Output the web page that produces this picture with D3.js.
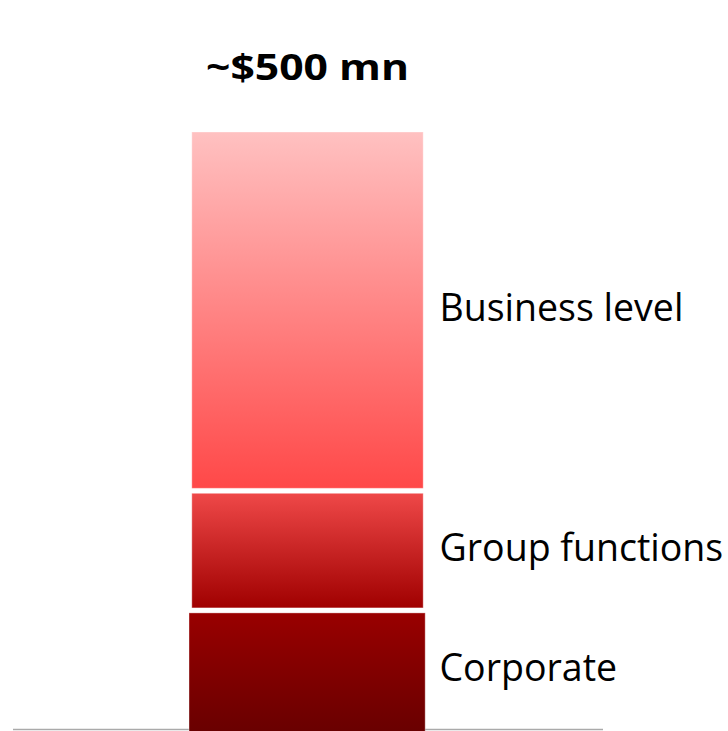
<!DOCTYPE html>
<html>
<head>
<meta charset="utf-8">
<script src="https://cdn.jsdelivr.net/npm/d3@7"></script>
<style>
  html, body { margin: 0; padding: 0; background: #fff; }
  svg { display: block; }
</style>
</head>
<body>
<svg id="chart" width="728" height="731"></svg>
<script>
// Cost savings split, stacked from the bottom up
const segments = ["Corporate", "Group functions", "Business level"];
const values = [100, 100, 300];
const totalLabel = "~$500 mn";

// Gradient stops (top colour, bottom colour) per segment
const gradients = {
  "Corporate":       ["#990000", "#690000"],
  "Group functions": ["#ef4848", "#a00000"],
  "Business level":  ["#ffc1c1", "#ff4848"]
};

const svg = d3.select("#chart");
const W = 728, H = 731;

const total = d3.sum(values);
const y = d3.scaleLinear().domain([0, total]).range([730, 132]);
const x = d3.scaleBand().domain(["total"]).range([12.5, 602.5]).paddingInner(0).paddingOuter(0.775);

// stacked extents
let acc = 0;
const stack = segments.map((name, i) => {
  const d = { name, value: values[i], y0: acc, y1: acc + values[i] };
  acc += values[i];
  return d;
});

const defs = svg.append("defs");
stack.forEach((d, i) => {
  const g = defs.append("linearGradient")
    .attr("id", "grad" + i)
    .attr("x1", 0).attr("y1", 0).attr("x2", 0).attr("y2", 1);
  g.append("stop").attr("offset", "0%").attr("stop-color", gradients[d.name][0]);
  g.append("stop").attr("offset", "100%").attr("stop-color", gradients[d.name][1]);
});

// baseline
svg.append("line")
  .attr("x1", 13).attr("x2", 603)
  .attr("y1", 729.5).attr("y2", 729.5)
  .attr("stroke", "#aaaaaa").attr("stroke-width", 1.5);

const gap = 2.5;
const bx = x("total"), bw = x.bandwidth();

svg.selectAll("rect.seg")
  .data(stack)
  .join("rect")
  .attr("class", "seg")
  .attr("x", d => d.y0 === 0 ? bx - 2.8 : bx)
  .attr("width", d => d.y0 === 0 ? bw + 4.8 : bw)
  .attr("y", d => y(d.y1) + (d.y1 === total ? 0 : gap))
  .attr("height", d => {
    const top = y(d.y1) + (d.y1 === total ? 0 : gap);
    const bottom = d.y0 === 0 ? H + 1 : y(d.y0) - gap;
    return bottom - top;
  })
  .attr("fill", (d, i) => `url(#grad${i})`)
  .attr("stroke", "rgba(255,255,255,0.35)")
  .attr("stroke-width", 1);

// segment labels
svg.selectAll("text.lbl")
  .data(stack)
  .join("text")
  .attr("class", "lbl")
  .attr("x", 439.5)
  .attr("y", d => {
    const top = y(d.y1);
    const bottom = d.y0 === 0 ? H : y(d.y0);
    return (top + bottom) / 2 + 10;
  })
  .attr("font-family", "'Open Sans', sans-serif")
  .attr("font-size", 37.5)
  .attr("fill", "#000")
  .text(d => d.name);

// total label
svg.append("text")
  .attr("x", bx + bw / 2)
  .attr("y", 79.5)
  .attr("text-anchor", "middle")
  .attr("font-family", "'Open Sans', sans-serif")
  .attr("font-weight", 700)
  .attr("font-size", 36)
  .attr("textLength", 203)
  .attr("lengthAdjust", "spacingAndGlyphs")
  .attr("fill", "#000")
  .text(totalLabel);
</script>
</body>
</html>
